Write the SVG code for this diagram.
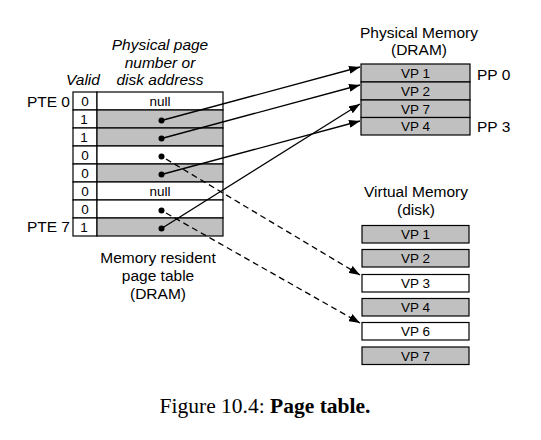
<svg xmlns="http://www.w3.org/2000/svg" width="541" height="440" viewBox="0 0 541 440">
<style>
text { font-family: "Liberation Sans", Arial, sans-serif; fill: #000; }
.lbl { font-size: 15.5px; }
.it { font-size: 15.5px; font-style: italic; }
.cell { font-size: 13.5px; text-anchor: middle; }
.mid { text-anchor: middle; }
.g { fill: #c0c0c0; stroke: #000; stroke-width: 1.2; }
.w { fill: #fff; stroke: #000; stroke-width: 1.2; }
.arr { stroke: #000; stroke-width: 1.3; fill: none; marker-end: url(#ah); }
.dash { stroke-dasharray: 6 4; }
.cap { font-family: "Liberation Serif", "Times New Roman", serif; font-size: 21.5px; }
</style>
<defs>
<marker id="ah" viewBox="0 0 11 8" refX="11" refY="4" markerWidth="11" markerHeight="8" markerUnits="userSpaceOnUse" orient="auto">
<path d="M0,0 L11,4 L0,8 z" fill="#000"/>
</marker>
</defs>
<rect width="541" height="440" fill="#fff"/>

<g id="pt-header">
<text class="it mid" x="160" y="50">Physical page</text>
<text class="it mid" x="160" y="68">number or</text>
<text class="it mid" x="160" y="85">disk address</text>
<text class="it mid" x="83" y="85">Valid</text>
<text class="lbl" x="70" y="106.5" text-anchor="end">PTE 0</text>
<text class="lbl" x="70" y="232" text-anchor="end">PTE 7</text>
</g>

<g id="page-table">
<rect class="w" x="73" y="92" width="24" height="18"/><rect class="w" x="97" y="92" width="126" height="18"/>
<rect class="w" x="73" y="110" width="24" height="18"/><rect class="g" x="97" y="110" width="126" height="18"/>
<rect class="w" x="73" y="128" width="24" height="18"/><rect class="g" x="97" y="128" width="126" height="18"/>
<rect class="w" x="73" y="146" width="24" height="18"/><rect class="w" x="97" y="146" width="126" height="18"/>
<rect class="w" x="73" y="164" width="24" height="18"/><rect class="g" x="97" y="164" width="126" height="18"/>
<rect class="w" x="73" y="182" width="24" height="18"/><rect class="w" x="97" y="182" width="126" height="18"/>
<rect class="w" x="73" y="200" width="24" height="18"/><rect class="w" x="97" y="200" width="126" height="18"/>
<rect class="w" x="73" y="218" width="24" height="18"/><rect class="g" x="97" y="218" width="126" height="18"/>
<text class="cell" x="85" y="106">0</text>
<text class="cell" x="84" y="124">1</text>
<text class="cell" x="84" y="142">1</text>
<text class="cell" x="85" y="160">0</text>
<text class="cell" x="85" y="178">0</text>
<text class="cell" x="85" y="196">0</text>
<text class="cell" x="85" y="214">0</text>
<text class="cell" x="84" y="232">1</text>
<text class="cell" x="160" y="106">null</text>
<text class="cell" x="160" y="196">null</text>
<circle cx="161.5" cy="120.5" r="3"/>
<circle cx="161.5" cy="138.5" r="3"/>
<circle cx="161.5" cy="156.5" r="3"/>
<circle cx="161.5" cy="174.5" r="3"/>
<circle cx="161.5" cy="210.5" r="3"/>
<circle cx="161.5" cy="228.5" r="3"/>
<text class="lbl mid" x="158" y="263">Memory resident</text>
<text class="lbl mid" x="158" y="281">page table</text>
<text class="lbl mid" x="158" y="299">(DRAM)</text>
</g>

<g id="physical-memory">
<text class="lbl mid" x="419" y="38">Physical Memory</text>
<text class="lbl mid" x="419" y="55">(DRAM)</text>
<rect class="g" x="361" y="64" width="109" height="18"/>
<rect class="g" x="361" y="82" width="109" height="18"/>
<rect class="g" x="361" y="100" width="109" height="17.5"/>
<rect class="g" x="361" y="117.5" width="109" height="17.5"/>
<text class="cell" x="415.5" y="78">VP 1</text>
<text class="cell" x="415.5" y="96">VP 2</text>
<text class="cell" x="415.5" y="113.5">VP 7</text>
<text class="cell" x="415.5" y="131">VP 4</text>
<text class="lbl" x="477" y="80">PP 0</text>
<text class="lbl" x="477" y="132">PP 3</text>
</g>

<g id="virtual-memory">
<text class="lbl mid" x="416" y="197">Virtual Memory</text>
<text class="lbl mid" x="416" y="215">(disk)</text>
<rect class="g" x="362" y="225.5" width="107" height="17.5"/>
<rect class="g" x="362" y="249.5" width="107" height="17.5"/>
<rect class="w" x="362" y="274.5" width="107" height="17.5"/>
<rect class="g" x="362" y="298.5" width="107" height="17.5"/>
<rect class="w" x="362" y="322.5" width="107" height="17.5"/>
<rect class="g" x="362" y="347" width="107" height="17.5"/>
<text class="cell" x="415.5" y="239">VP 1</text>
<text class="cell" x="415.5" y="263">VP 2</text>
<text class="cell" x="415.5" y="288">VP 3</text>
<text class="cell" x="415.5" y="312">VP 4</text>
<text class="cell" x="415.5" y="336">VP 6</text>
<text class="cell" x="415.5" y="360.5">VP 7</text>
</g>

<g id="connectors">
<line class="arr" x1="161.5" y1="120.5" x2="360" y2="67"/>
<line class="arr" x1="161.5" y1="138.5" x2="360" y2="85"/>
<line class="arr" x1="161.5" y1="174.5" x2="360" y2="121"/>
<line class="arr" x1="161.5" y1="228.5" x2="360" y2="104"/>
<line class="arr dash" x1="166" y1="159" x2="360" y2="275"/>
<line class="arr dash" x1="166" y1="213" x2="360" y2="323"/>
</g>

<g id="caption">
<text class="cap mid" x="265" y="413">Figure 10.4: <tspan font-weight="bold">Page table.</tspan></text>
</g>
</svg>
